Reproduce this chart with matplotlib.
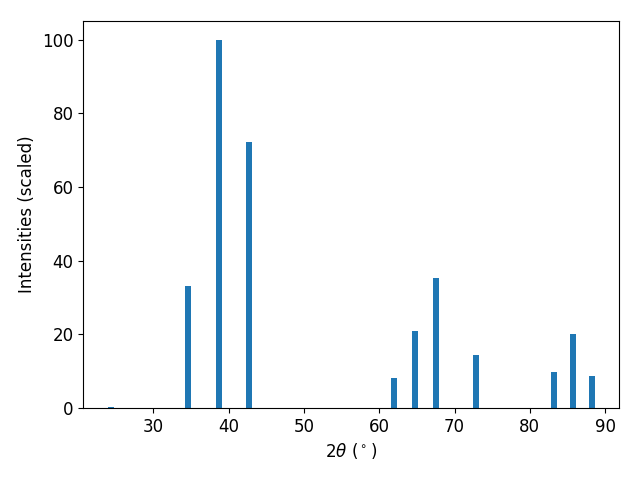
import matplotlib
matplotlib.use('Agg')
import matplotlib.pyplot as plt

# peak positions (2theta, degrees) and scaled intensities
two_theta = [24.3, 34.65, 38.76, 42.75, 61.9, 64.7, 67.5, 72.8, 83.2, 85.7, 88.2]
intensities = [0.4, 33.0, 100.0, 72.1, 8.2, 21.0, 35.3, 14.4, 9.8, 20.1, 8.7]

plt.rcParams.update({'font.size': 12})

fig, ax = plt.subplots(figsize=(6.4, 4.8), dpi=100)

ax.bar(two_theta, intensities, width=0.8, color='#1f77b4')

ax.set_xlabel(r'$2\theta$ ($^\circ$)')
ax.set_ylabel('Intensities (scaled)')

fig.subplots_adjust(left=0.13, right=0.967, top=0.956, bottom=0.15)
fig.savefig('out.png')
